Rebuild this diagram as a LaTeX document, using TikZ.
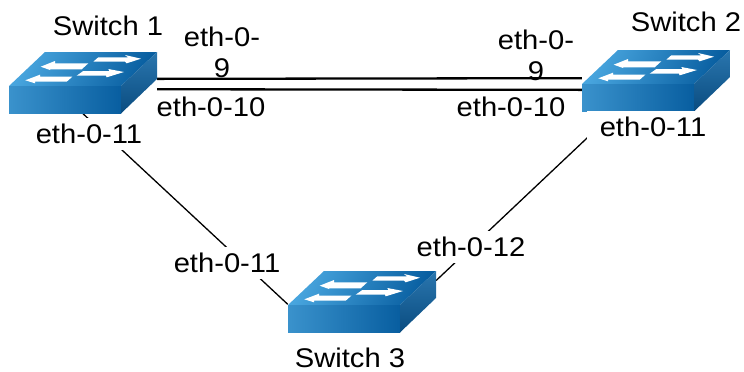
\documentclass[tikz,border=0pt]{standalone}
\usepackage{fontspec}
\setmainfont[FakeStretch=1.08]{Liberation Sans}
\usetikzlibrary{backgrounds, positioning, calc}
\definecolor{swlight}{RGB}{72,165,222}
\definecolor{swmid}{RGB}{58,146,204}
\definecolor{swdark}{RGB}{8,94,160}
\definecolor{swside}{RGB}{42,118,174}
\definecolor{swsidedark}{RGB}{10,76,128}
\tikzset{
  swtop/.style={left color=swlight, right color=swdark, shading angle=65},
  swfront/.style={left color=swmid, right color=swdark},
  swedge/.style={bottom color=swsidedark, top color=swside},
  swarrow/.style={fill=white, draw=none},
  swbody/.style={inner sep=0pt, minimum width=148pt, minimum height=61.5pt},
  swname/.style={font=\fontsize{27}{31}\selectfont, inner sep=0pt},
  txt/.style={swname, align=center},
  port/.style={txt, fill=white, inner xsep=13pt, minimum height=32pt},
  link/.style={line width=1.3pt},
  trunk/.style={line width=2.3pt},
}
% one switch, #2 #3 = top left of its box
\newcommand{\switchicon}[3]{
  \begin{scope}[shift={(#2,#3)}]
    \shade[swtop] (36,0) -- (148,0) -- (112,34) -- (0,34) -- cycle;
    \shade[swfront] (0,34) rectangle (112,61.5);
    \shade[swedge] (148,0) -- (148,27) -- (112,61.5) -- (112,34) -- cycle;
    \fill[swarrow] (89.3,5.3) -- (119,5.3) -- (116,3) -- (132,6.7) -- (117.7,11.3) -- (116,9.7) -- (84.3,9.7) -- cycle;
    \fill[swarrow] (31.7,14.7) -- (46,9) -- (46,11.3) -- (79.3,11.3) -- (72.7,17.3) -- (41,17.3) -- (41,18) -- cycle;
    \fill[swarrow] (115,20) -- (99.3,17) -- (100.3,19) -- (74.3,19) -- (67.7,23.7) -- (97,23.7) -- (97.7,25.3) -- cycle;
    \fill[swarrow] (16.3,28.3) -- (31,22.7) -- (31,24.7) -- (63.3,24.7) -- (57.7,29.7) -- (26,29.7) -- (26,31.3) -- cycle;
    \node[swbody] (#1) at (74,30.75) {};
  \end{scope}
}
\begin{document}
\begin{tikzpicture}[x=1pt, y=-1pt]
    \useasboundingbox (0,0) rectangle (744,372);
    \switchicon{sw1}{9}{52}
    \switchicon{sw2}{582}{50}
    \switchicon{sw3}{288}{271}
    \begin{scope}[on background layer]
      \node[txt] (p9a) at (222,52) {eth-0-\\9};
      \node[txt] (p9b) at (536,55) {eth-0-\\9};
      \draw[trunk] (sw1.3) -- (sw2.178);
      \draw[trunk] (sw1.355) -- (sw2.187);
      \draw[link] (sw1.south) -- (sw3.182.5);
      \draw[link] (sw2.217) -- (sw3.16);
    \end{scope}
    \node[swname] (name1) at (108,26) {Switch 1};
    \node[swname] (name2) at (686,22) {Switch 2};
    \node[swname] (name3) at (350,358) {Switch 3};
    \node[port] (p10a) at (211,107) {eth-0-10};
    \node[port] (p10b) at (511,107) {eth-0-10};
    \node[port] (p11a) at (89,134) {eth-0-11};
    \node[port] (p11b) at (653,127) {eth-0-11};
    \node[port] (p11c) at (227,263) {eth-0-11};
    \node[port] (p12) at (471,247) {eth-0-12};
\end{tikzpicture}
\end{document}
